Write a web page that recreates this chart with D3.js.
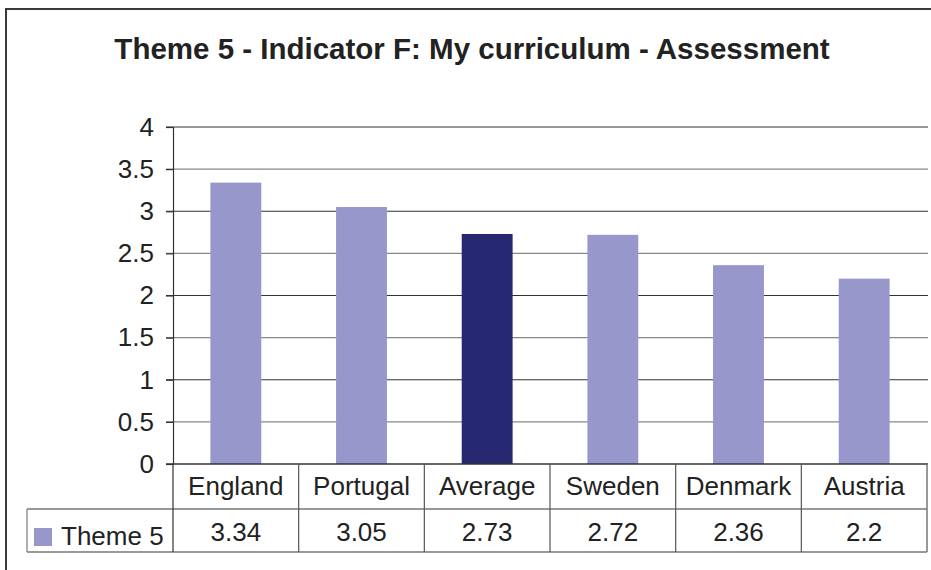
<!DOCTYPE html>
<html>
<head>
<meta charset="utf-8">
<script src="https://cdn.jsdelivr.net/npm/d3@7"></script>
<style>
  html, body { margin: 0; padding: 0; background: #fff; }
  svg { display: block; font-family: "Liberation Sans", Arial, sans-serif; }
</style>
</head>
<body>
<svg id="chart" width="931" height="570"></svg>
<script>
const title = "Theme 5 - Indicator F: My curriculum - Assessment";
const seriesName = "Theme 5";
const categories = ["England", "Portugal", "Average", "Sweden", "Denmark", "Austria"];
const values = [3.34, 3.05, 2.73, 2.72, 2.36, 2.2];
const valueLabels = ["3.34", "3.05", "2.73", "2.72", "2.36", "2.2"];
const highlighted = ["Average"];
const yTicks = [0, 0.5, 1, 1.5, 2, 2.5, 3, 3.5, 4];

(function () {
const lightColor = "#9797cb";
const darkColor = "#262871";
const textColor = "#222";
const fs = 26;

const svg = d3.select("#chart");

// outer frame
svg.append("path")
  .attr("d", "M6,575 L6,9 L940,9")
  .attr("fill", "none").attr("stroke", "#3a3a3a").attr("stroke-width", 2);

// title
svg.append("text")
  .attr("x", 472).attr("y", 59)
  .attr("text-anchor", "middle")
  .attr("font-weight", "bold")
  .attr("font-size", 29.5)
  .attr("fill", textColor)
  .text(title);

const pLeft = 173, pRight = 927, pTop = 127, pBottom = 464;
const row1 = 509, row2 = 552, legendLeft = 27;

const x = d3.scaleBand().domain(categories).range([pLeft, pRight]).paddingInner(0).paddingOuter(0);
const y = d3.scaleLinear().domain([0, 4]).range([pBottom, pTop]);

// gridlines
svg.append("g").selectAll("line").data(yTicks.filter(t => t > 0)).join("line")
  .attr("x1", pLeft - 7).attr("x2", pRight + 1)
  .attr("y1", d => y(d)).attr("y2", d => y(d))
  .attr("stroke", d => Number.isInteger(d) ? "#333" : "#888")
  .attr("stroke-width", 1.2);

// bars
const bw = x.bandwidth() * 0.405;
svg.append("g").selectAll("rect").data(categories).join("rect")
  .attr("x", d => x(d) + x.bandwidth() / 2 - bw / 2)
  .attr("width", bw)
  .attr("y", (d, i) => y(values[i]))
  .attr("height", (d, i) => y(0) - y(values[i]))
  .attr("fill", d => highlighted.includes(d) ? darkColor : lightColor);

// y axis
const yAxis = d3.axisLeft(y).tickValues(yTicks).tickSize(7).tickPadding(12)
  .tickFormat(d => String(d));
const gy = svg.append("g").attr("transform", `translate(${pLeft},0)`).call(yAxis);
gy.select(".domain").attr("stroke", "#333").attr("stroke-width", 1.2);
gy.selectAll(".tick line").attr("stroke", "#333").attr("stroke-width", 1.2);
gy.selectAll(".tick text")
  .attr("font-size", fs).attr("fill", textColor)
  .attr("font-family", "Liberation Sans, Arial, sans-serif");

// zero line
svg.append("line").attr("x1", pLeft - 7).attr("x2", pRight + 1)
  .attr("y1", y(0)).attr("y2", y(0)).attr("stroke", "#333").attr("stroke-width", 1.5);

// data table
const tbl = svg.append("g");
tbl.append("line").attr("x1", legendLeft).attr("x2", pRight).attr("y1", row1).attr("y2", row1)
  .attr("stroke", "#333").attr("stroke-width", 1.2);
tbl.append("line").attr("x1", legendLeft).attr("x2", pRight).attr("y1", row2).attr("y2", row2)
  .attr("stroke", "#777").attr("stroke-width", 1.5);
tbl.append("line").attr("x1", legendLeft).attr("x2", legendLeft).attr("y1", row1).attr("y2", row2)
  .attr("stroke", "#777").attr("stroke-width", 1.2);
tbl.append("line").attr("x1", pLeft).attr("x2", pLeft).attr("y1", pBottom).attr("y2", row2)
  .attr("stroke", "#333").attr("stroke-width", 1.2);
tbl.selectAll(".vsep").data(categories).join("line").attr("class", "vsep")
  .attr("x1", d => x(d) + x.bandwidth()).attr("x2", d => x(d) + x.bandwidth())
  .attr("y1", pBottom).attr("y2", row2)
  .attr("stroke", (d, i) => i === categories.length - 1 ? "#777" : "#555")
  .attr("stroke-width", (d, i) => i === categories.length - 1 ? 1.5 : 1.2);

tbl.selectAll(".cat").data(categories).join("text").attr("class", "cat")
  .attr("x", d => x(d) + x.bandwidth() / 2).attr("y", 495)
  .attr("text-anchor", "middle").attr("font-size", fs).attr("fill", textColor)
  .text(d => d);
tbl.selectAll(".val").data(categories).join("text").attr("class", "val")
  .attr("x", d => x(d) + x.bandwidth() / 2).attr("y", 541)
  .attr("text-anchor", "middle").attr("font-size", fs).attr("fill", textColor)
  .text((d, i) => valueLabels[i]);

// legend key
tbl.append("rect").attr("x", 34).attr("y", 528).attr("width", 18).attr("height", 18)
  .attr("fill", lightColor);
tbl.append("text").attr("x", 61).attr("y", 545).attr("font-size", fs).attr("fill", textColor)
  .text(seriesName);
})();
</script>
</body>
</html>
